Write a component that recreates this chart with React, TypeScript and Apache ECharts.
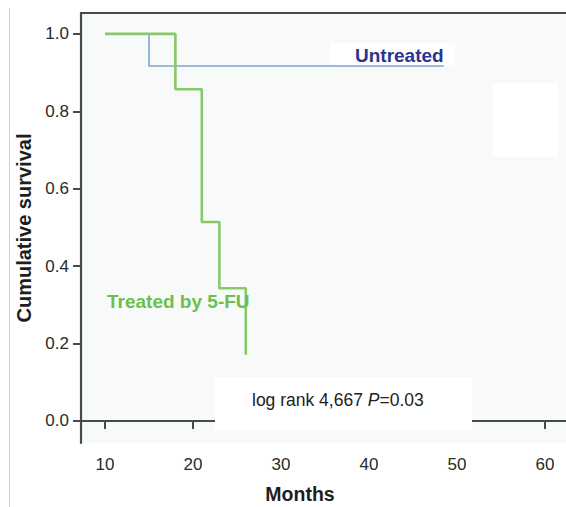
import React, { useEffect, useRef } from "react";
import * as echarts from "echarts";

const treatedMonths = [10, 18, 21, 23, 26];
const treatedSurvival = [1.0, 0.857, 0.514, 0.343, 0.171];
const untreatedMonths = [10, 15, 48.5];
const untreatedSurvival = [1.0, 0.917, 0.917];
const xTicks = [10, 20, 30, 40, 50, 60];
const yTicks = [0, 0.2, 0.4, 0.6, 0.8, 1.0];

const FONT = "'Liberation Sans', Arial, sans-serif";

export default function App() {
  const ref = useRef<HTMLDivElement>(null);
  useEffect(() => {
    if (!ref.current) return;
    const chart = echarts.init(ref.current, undefined, { renderer: "svg" });
    const axisColor = "#434c4b";
    const treated = treatedMonths.map((m, i) => [m, treatedSurvival[i]]);
    const untreated = untreatedMonths.map((m, i) => [m, untreatedSurvival[i]]);
    chart.setOption({
      animation: false,
      backgroundColor: "#ffffff",
      textStyle: { fontFamily: FONT },
      grid: {
        left: 81,
        top: 13,
        right: 0,
        bottom: 64,
        show: true,
        backgroundColor: "#f8fafa",
        borderWidth: 0,
      },
      xAxis: [
        {
          type: "value",
          min: 7.27,
          max: 62.4,
          position: "bottom",
          axisLine: { show: true, lineStyle: { color: axisColor, width: 2.2 } },
          axisTick: { show: true, length: 8, customValues: xTicks, lineStyle: { color: axisColor, width: 2 } },
          axisLabel: { customValues: xTicks, fontSize: 17, color: "#2a2a2a", margin: 13, fontFamily: FONT },
          splitLine: { show: false },
        },
        {
          type: "value",
          min: 7.27,
          max: 62.4,
          position: "top",
          axisLine: { show: true, lineStyle: { color: axisColor, width: 2.2 } },
          axisTick: { show: false },
          axisLabel: { show: false },
          splitLine: { show: false },
        },
      ],
      yAxis: {
        type: "value",
        min: -0.057,
        max: 1.054,
        name: "Cumulative survival",
        nameLocation: "middle",
        nameGap: 47,
        nameTextStyle: { fontSize: 20, fontWeight: "bold", color: "#1e1e1e", fontFamily: FONT },
        axisLine: { show: true, lineStyle: { color: axisColor, width: 2.2 } },
        axisTick: { show: true, length: 8, customValues: yTicks, lineStyle: { color: axisColor, width: 2 } },
        axisLabel: {
          customValues: yTicks,
          fontSize: 17,
          color: "#2a2a2a",
          margin: 12,
          fontFamily: FONT,
          formatter: (v: number) => v.toFixed(1),
        },
        splitLine: { show: false },
      },
      series: [
        {
          name: "Untreated",
          type: "line",
          step: "end",
          data: untreated,
          symbol: "none",
          z: 3,
          lineStyle: { color: "#7ba6d6", width: 1.6 },
        },
        {
          name: "Treated by 5-FU",
          type: "line",
          step: "end",
          data: treated,
          symbol: "none",
          z: 4,
          lineStyle: { color: "#87c867", width: 2.6 },
        },
      ],
      graphic: [
        {
          type: "line",
          shape: { x1: 9.5, y1: 8, x2: 9.5, y2: 507 },
          style: { stroke: "#d4d4d4", lineWidth: 1 },
          z: 1,
        },
        {
          type: "rect",
          shape: { x: 215, y: 377, width: 257, height: 53 },
          style: { fill: "#ffffff" },
          z: 1,
        },
        {
          type: "rect",
          shape: { x: 493, y: 83, width: 65, height: 74 },
          style: { fill: "#ffffff" },
          z: 1,
        },
        {
          type: "rect",
          shape: { x: 330, y: 43, width: 125, height: 22 },
          style: { fill: "#ffffff" },
          z: 1,
        },
        {
          type: "text",
          x: 300,
          y: 494,
          z: 10,
          style: {
            text: "Months",
            fill: "#1e1e1e",
            font: `bold 19.5px ${FONT}`,
            align: "center",
            verticalAlign: "middle",
          },
        },
        {
          type: "text",
          x: 355,
          y: 55,
          z: 10,
          style: {
            text: "Untreated",
            fill: "#2c3390",
            font: `bold 19px ${FONT}`,
            verticalAlign: "middle",
          },
        },
        {
          type: "text",
          x: 107,
          y: 301,
          z: 10,
          style: {
            text: "Treated by 5-FU",
            fill: "#6dbf4c",
            font: `bold 19px ${FONT}`,
            verticalAlign: "middle",
          },
        },
        {
          type: "text",
          x: 252,
          y: 400,
          z: 10,
          style: {
            text: "log rank 4,667 {i|P}=0.03",
            fill: "#222",
            font: `17.5px ${FONT}`,
            verticalAlign: "middle",
            rich: {
              i: { fontStyle: "italic", fontSize: 17.5, fontFamily: FONT, fill: "#222" },
            },
          },
        },
      ],
    });
    return () => chart.dispose();
  }, []);
  return (
    <div
      ref={ref}
      style={{ position: "fixed", left: 0, top: 0, width: 566, height: 507 }}
    />
  );
}
